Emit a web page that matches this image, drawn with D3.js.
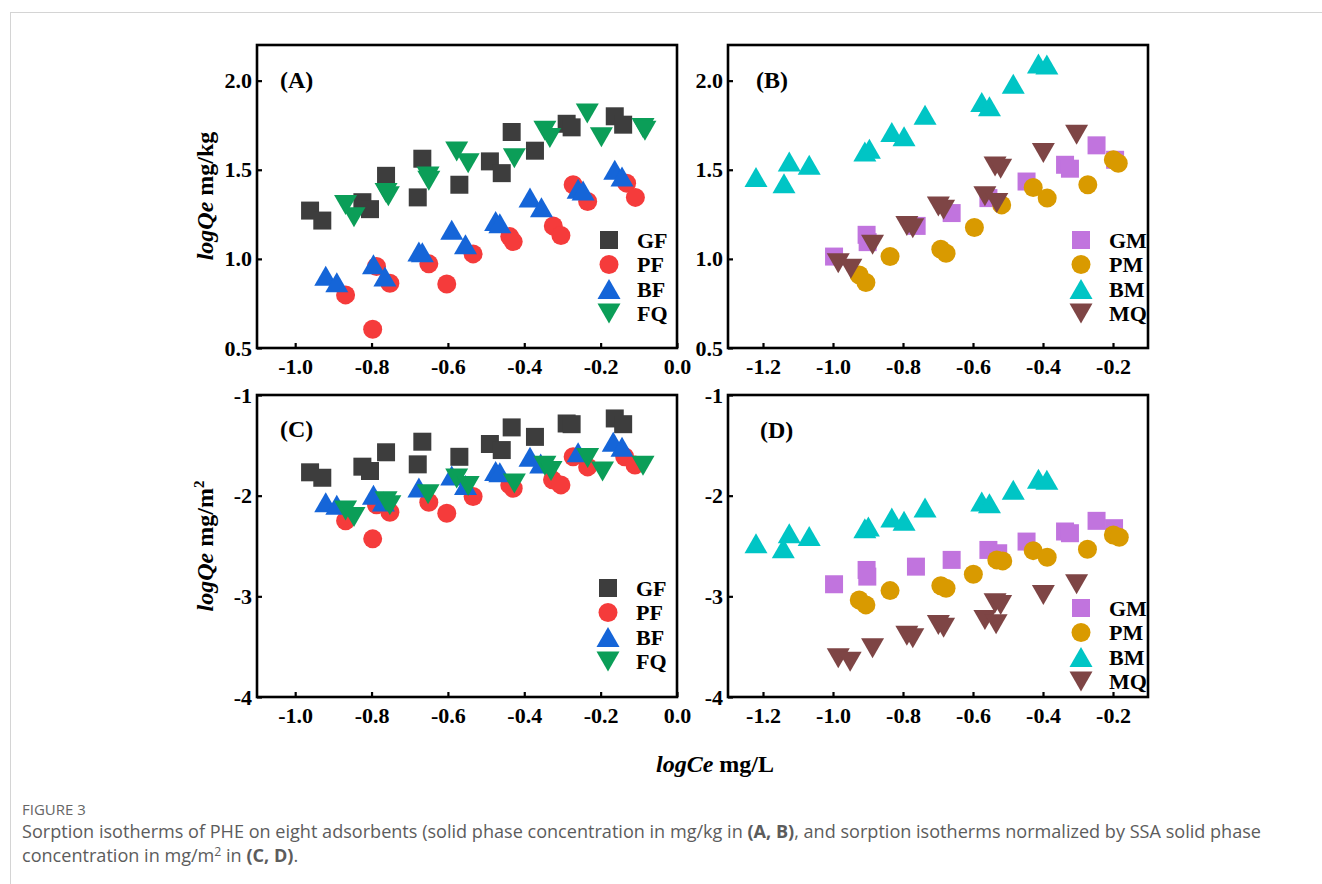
<!DOCTYPE html>
<html>
<head>
<meta charset="utf-8">
<script src="https://cdn.jsdelivr.net/npm/d3@7"></script>
<style>
  body { margin: 0; background: #fff; }
  svg { display: block; }
</style>
</head>
<body>
<script>
// ---- data: [logCe, logQe] ----
const aGF = [[-0.961,1.271],[-0.929,1.215],[-0.824,1.318],[-0.804,1.279],[-0.762,1.466],[-0.679,1.345],[-0.667,1.562],[-0.570,1.416],[-0.490,1.547],[-0.459,1.481],[-0.433,1.712],[-0.372,1.607],[-0.289,1.758],[-0.276,1.738],[-0.163,1.800],[-0.141,1.753]];
const aPF = [[-0.868,0.798],[-0.797,0.605],[-0.787,0.957],[-0.752,0.863],[-0.650,0.972],[-0.603,0.859],[-0.534,1.028],[-0.438,1.125],[-0.429,1.097],[-0.324,1.185],[-0.304,1.131],[-0.272,1.416],[-0.234,1.322],[-0.132,1.425],[-0.109,1.345]];
const aBF = [[-0.920,0.906],[-0.891,0.869],[-0.795,0.970],[-0.765,0.901],[-0.676,1.041],[-0.667,1.037],[-0.590,1.163],[-0.554,1.082],[-0.475,1.213],[-0.464,1.200],[-0.385,1.345],[-0.355,1.289],[-0.259,1.393],[-0.246,1.384],[-0.163,1.500],[-0.144,1.462]];
const aFQ = [[-0.868,1.303],[-0.846,1.234],[-0.762,1.369],[-0.756,1.352],[-0.652,1.462],[-0.650,1.438],[-0.577,1.603],[-0.547,1.537],[-0.426,1.565],[-0.346,1.719],[-0.333,1.678],[-0.235,1.815],[-0.198,1.683],[-0.089,1.734],[-0.084,1.719]];

const bGM = [[-0.997,1.013],[-0.904,1.135],[-0.901,1.094],[-0.761,1.185],[-0.661,1.257],[-0.556,1.341],[-0.447,1.434],[-0.337,1.528],[-0.323,1.506],[-0.247,1.637],[-0.194,1.556]];
const bPM = [[-0.925,0.910],[-0.906,0.867],[-0.837,1.013],[-0.692,1.054],[-0.677,1.032],[-0.596,1.176],[-0.518,1.303],[-0.428,1.401],[-0.388,1.341],[-0.272,1.416],[-0.199,1.556],[-0.185,1.537]];
const bBM = [[-1.220,1.459],[-1.140,1.425],[-1.125,1.547],[-1.068,1.528],[-0.909,1.603],[-0.896,1.618],[-0.832,1.712],[-0.797,1.688],[-0.737,1.809],[-0.575,1.880],[-0.553,1.856],[-0.485,1.983],[-0.413,2.096],[-0.389,2.090]];
const bMQ = [[-0.985,0.976],[-0.949,0.944],[-0.887,1.079],[-0.789,1.185],[-0.772,1.172],[-0.699,1.294],[-0.684,1.275],[-0.566,1.352],[-0.532,1.313],[-0.537,1.519],[-0.521,1.506],[-0.399,1.594],[-0.304,1.697]];

const cGF = [[-0.961,-1.768],[-0.929,-1.822],[-0.824,-1.712],[-0.804,-1.755],[-0.762,-1.569],[-0.679,-1.689],[-0.667,-1.464],[-0.570,-1.614],[-0.490,-1.487],[-0.459,-1.547],[-0.433,-1.322],[-0.372,-1.416],[-0.289,-1.283],[-0.276,-1.290],[-0.163,-1.233],[-0.141,-1.290]];
const cPF = [[-0.868,-2.250],[-0.797,-2.429],[-0.787,-2.091],[-0.752,-2.164],[-0.650,-2.065],[-0.603,-2.174],[-0.534,-2.009],[-0.438,-1.893],[-0.429,-1.926],[-0.326,-1.843],[-0.304,-1.893],[-0.272,-1.614],[-0.234,-1.714],[-0.137,-1.614],[-0.110,-1.696]];
const cBF = [[-0.920,-2.065],[-0.891,-2.091],[-0.795,-1.992],[-0.769,-2.058],[-0.676,-1.920],[-0.590,-1.800],[-0.554,-1.893],[-0.475,-1.755],[-0.464,-1.768],[-0.385,-1.614],[-0.357,-1.680],[-0.259,-1.569],[-0.167,-1.464],[-0.144,-1.514]];
const cFQ = [[-0.868,-2.147],[-0.846,-2.213],[-0.762,-2.055],[-0.752,-2.095],[-0.652,-1.985],[-0.577,-1.829],[-0.547,-1.903],[-0.426,-1.879],[-0.346,-1.704],[-0.330,-1.755],[-0.234,-1.627],[-0.195,-1.760],[-0.089,-1.704]];

const dGM = [[-0.997,-2.880],[-0.904,-2.738],[-0.902,-2.804],[-0.763,-2.705],[-0.661,-2.638],[-0.556,-2.539],[-0.528,-2.572],[-0.447,-2.456],[-0.337,-2.356],[-0.323,-2.373],[-0.247,-2.250],[-0.197,-2.323]];
const dPM = [[-0.925,-3.036],[-0.906,-3.085],[-0.837,-2.943],[-0.692,-2.894],[-0.677,-2.920],[-0.599,-2.781],[-0.532,-2.638],[-0.515,-2.648],[-0.428,-2.546],[-0.388,-2.612],[-0.273,-2.533],[-0.199,-2.390],[-0.182,-2.413]];
const dBM = [[-1.220,-2.473],[-1.142,-2.522],[-1.125,-2.373],[-1.068,-2.400],[-0.909,-2.323],[-0.899,-2.307],[-0.832,-2.218],[-0.797,-2.250],[-0.737,-2.118],[-0.575,-2.058],[-0.553,-2.075],[-0.485,-1.942],[-0.413,-1.833],[-0.389,-1.843]];
const dMQ = [[-0.985,-3.615],[-0.951,-3.649],[-0.887,-3.516],[-0.789,-3.391],[-0.772,-3.417],[-0.699,-3.284],[-0.684,-3.311],[-0.566,-3.235],[-0.534,-3.277],[-0.537,-3.068],[-0.521,-3.085],[-0.399,-2.986],[-0.304,-2.880]];

// names, tick values
const namesF = ['GF', 'PF', 'BF', 'FQ'];
const namesM = ['GM', 'PM', 'BM', 'MQ'];
const xTicksAC = [-1.0, -0.8, -0.6, -0.4, -0.2, 0.0];
const xTicksBD = [-1.2, -1.0, -0.8, -0.6, -0.4, -0.2];
const yTicksAB = [0.5, 1.0, 1.5, 2.0];
const yTicksCD = [-4, -3, -2, -1];

// styles
const colorsF = ['#3d3d3d', '#f53b3b', '#1565d8', '#0b9e58'];
const colorsM = ['#c174de', '#d99a00', '#00c5c5', '#7e4545'];
const shapes = ['square', 'circle', 'up', 'down'];
const serif = '"Liberation Serif", "Times New Roman", Times, serif';

const width = 1322, height = 884;

const svg = d3.select('body').append('svg')
  .attr('width', width)
  .attr('height', height)
  .style('font-family', serif);

// card border
svg.append('line').attr('x1', 10).attr('x2', width).attr('y1', 12.5).attr('y2', 12.5)
  .attr('stroke', '#d4d4d4');
svg.append('line').attr('x1', 10.5).attr('x2', 10.5).attr('y1', 12).attr('y2', height)
  .attr('stroke', '#d4d4d4');

// marker path centred on (0,0)
function marker(shape) {
  const p = d3.path();
  if (shape === 'square') {
    p.rect(-9, -9, 18, 18);
  } else if (shape === 'circle') {
    p.arc(0, 0, 9.5, 0, 2 * Math.PI);
  } else if (shape === 'up') {
    p.moveTo(0, -10); p.lineTo(11.5, 10); p.lineTo(-11.5, 10); p.closePath();
  } else {
    p.moveTo(0, 10); p.lineTo(11.5, -10); p.lineTo(-11.5, -10); p.closePath();
  }
  return p.toString();
}

const panels = [
  {tag: '(A)', tagX: 280, tagY: 88, px: [257, 677], py: [45, 348], xd: [-1.1, 0], yd: [0.5, 2.2],
   xt: xTicksAC, yt: yTicksAB, yf: d => d.toFixed(1), series: [aGF, aPF, aBF, aFQ], names: namesF, colors: colorsF,
   legX: 609, legY: 240},
  {tag: '(B)', tagX: 756, tagY: 88, px: [728, 1148], py: [45, 348], xd: [-1.3, -0.1], yd: [0.5, 2.2],
   xt: xTicksBD, yt: yTicksAB, yf: d => d.toFixed(1), series: [bGM, bPM, bBM, bMQ], names: namesM, colors: colorsM,
   legX: 1081, legY: 240},
  {tag: '(C)', tagX: 280, tagY: 437, px: [257, 677], py: [395, 697], xd: [-1.1, 0], yd: [-4, -1],
   xt: xTicksAC, yt: yTicksCD, yf: d => String(d), series: [cGF, cPF, cBF, cFQ], names: namesF, colors: colorsF,
   legX: 608, legY: 588},
  {tag: '(D)', tagX: 760, tagY: 438, px: [728, 1148], py: [395, 697], xd: [-1.3, -0.1], yd: [-4, -1],
   xt: xTicksBD, yt: yTicksCD, yf: d => String(d), series: [dGM, dPM, dBM, dMQ], names: namesM, colors: colorsM,
   legX: 1081, legY: 608}
];

panels.forEach(p => {
  const x = d3.scaleLinear().domain(p.xd).range(p.px);
  const y = d3.scaleLinear().domain(p.yd).range([p.py[1], p.py[0]]);
  const g = svg.append('g');

  // axes, ticks pointing inward
  const xAxis = g.append('g')
    .attr('transform', `translate(0,${p.py[1]})`)
    .call(d3.axisBottom(x).tickValues(p.xt).tickFormat(d => d.toFixed(1))
      .tickSizeInner(-5).tickSizeOuter(0).tickPadding(10));
  const yAxis = g.append('g')
    .attr('transform', `translate(${p.px[0]},0)`)
    .call(d3.axisLeft(y).tickValues(p.yt).tickFormat(p.yf)
      .tickSizeInner(-5).tickSizeOuter(0).tickPadding(5));
  [xAxis, yAxis].forEach(a => {
    a.select('.domain').remove();
    a.selectAll('line').attr('stroke', '#000').attr('stroke-width', 2.2);
    a.selectAll('text').attr('fill', '#000')
      .style('font-family', serif).style('font-size', '22px').style('font-weight', 'bold');
  });

  // frame
  g.append('rect')
    .attr('x', p.px[0]).attr('y', p.py[0])
    .attr('width', p.px[1] - p.px[0]).attr('height', p.py[1] - p.py[0])
    .attr('fill', 'none').attr('stroke', '#000').attr('stroke-width', 2.6);

  // panel tag
  g.append('text')
    .attr('x', p.tagX).attr('y', p.tagY)
    .style('font-size', '24px').style('font-weight', 'bold')
    .text(p.tag);

  // points
  p.series.forEach((s, i) => {
    g.append('g').selectAll('path')
      .data(s)
      .join('path')
      .attr('d', marker(shapes[i]))
      .attr('transform', d => `translate(${x(d[0])},${y(d[1])})`)
      .attr('fill', p.colors[i]);
  });

  // legend
  const leg = g.append('g').selectAll('g')
    .data(p.names)
    .join('g')
    .attr('transform', (d, i) => `translate(${p.legX},${p.legY + i * 24.5})`);
  leg.append('path')
    .attr('d', (d, i) => marker(shapes[i]))
    .attr('fill', (d, i) => p.colors[i]);
  leg.append('text')
    .attr('x', 28).attr('dy', '0.35em')
    .style('font-size', '22px').style('font-weight', 'bold')
    .text(d => d);
});

// y-axis titles
function yTitle(cx, cy, unit, sup) {
  const t = svg.append('text')
    .attr('transform', `translate(${cx},${cy}) rotate(-90)`)
    .attr('text-anchor', 'middle')
    .style('font-size', '24px').style('font-weight', 'bold');
  t.append('tspan').style('font-style', 'italic').text('logQe');
  t.append('tspan').text(' ' + unit);
  if (sup) t.append('tspan').attr('dy', -9).style('font-size', '15px').text(sup);
}
yTitle(213, 196, 'mg/kg');
yTitle(213, 546, 'mg/m', '2');

// x-axis title
const xt = svg.append('text')
  .attr('x', 715).attr('y', 772)
  .attr('text-anchor', 'middle')
  .style('font-size', '24px').style('font-weight', 'bold');
xt.append('tspan').style('font-style', 'italic').text('logCe');
xt.append('tspan').text(' mg/L');

// caption
const sans = '"Open Sans", "Noto Sans", sans-serif';
svg.append('text')
  .attr('x', 22).attr('y', 815)
  .style('font-family', sans).style('font-size', '15px')
  .attr('fill', '#666')
  .text('FIGURE 3');

const cap1 = svg.append('text')
  .attr('x', 22).attr('y', 838)
  .style('font-family', sans).style('font-size', '16px')
  .attr('fill', '#5c5c5c');
cap1.append('tspan').text('Sorption isotherms of PHE on eight adsorbents (solid phase concentration in mg/kg in ');
cap1.append('tspan').style('font-weight', 'bold').text('(A, B)');
cap1.append('tspan').text(', and sorption isotherms normalized by SSA solid phase');

const cap2 = svg.append('text')
  .attr('x', 22).attr('y', 862)
  .style('font-family', sans).style('font-size', '16px')
  .attr('fill', '#5c5c5c');
cap2.append('tspan').text('concentration in mg/m');
cap2.append('tspan').attr('dy', -6).style('font-size', '11px').text('2');
cap2.append('tspan').attr('dy', 6).text(' in ');
cap2.append('tspan').style('font-weight', 'bold').text('(C, D)');
cap2.append('tspan').text('.');

// fit caption width to the reference line length
const w1 = cap1.node().getComputedTextLength();
const fs = 16 * 1240 / w1;
[cap1, cap2].forEach(c => c.style('font-size', fs + 'px'));
cap2.selectAll('tspan').filter((d, i) => i === 1).style('font-size', (fs * 0.68) + 'px');
</script>
</body>
</html>
